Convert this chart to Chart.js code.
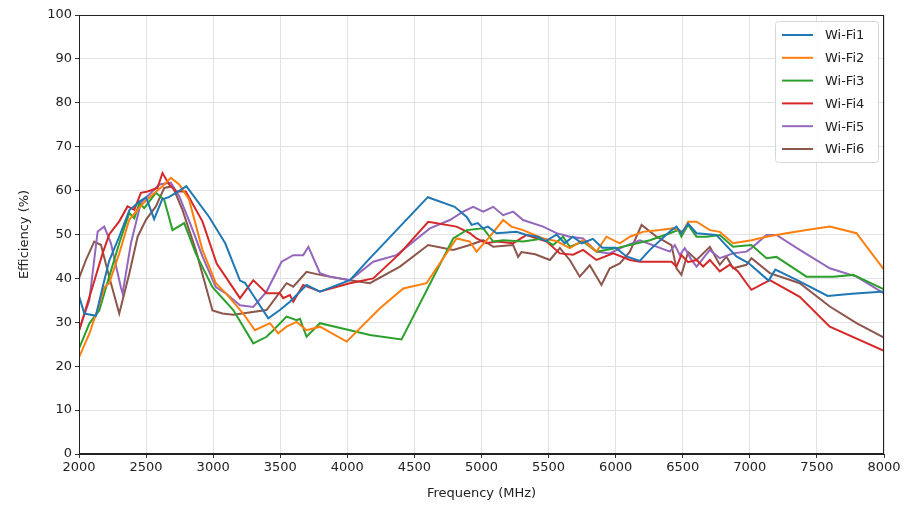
<!DOCTYPE html>
<html>
<head>
<meta charset="utf-8">
<script src="https://cdn.jsdelivr.net/npm/chart.js@4/dist/chart.umd.min.js"></script>
<style>
  body { margin: 0; background: #fff; }
  #wrap { width: 921px; height: 505px; }
</style>
</head>
<body>
<div id="wrap"><canvas id="effChart" width="921" height="505"></canvas></div>
<script>
// Datos de eficiencia por antena (MHz / %)
const wifi1Freq = [2000,2040,2126,2176,2225,2300,2375,2450,2500,2560,2620,2670,2750,2800,2970,3090,3200,3237,3411,3497,3572,3622,3696,3796,4019,4150,4600,4800,4890,4926,4973,5011,5048,5112,5261,5336,5420,5480,5560,5620,5680,5750,5830,5900,6000,6080,6180,6255,6416,6453,6490,6540,6603,6750,6900,6990,7140,7190,7360,7580,7760,8000];
const wifi1Eff  = [36,32,31.5,38,44,49.5,55.5,57.5,58.5,53.5,58,58.5,60,61,54,48,39.5,39,30.9,32.8,34.7,36.2,38.5,37,39.6,44,58.5,56.3,54,52.2,52.6,51.4,51.8,50.3,50.6,49.9,49.5,48.5,50,48,49.5,48,49,47,47,45,44,46.5,51,51.8,50.3,52.5,50.3,49.9,45,43.5,39.5,42,39.5,36,36.5,37];

const wifi2Freq = [2000,2077,2150,2190,2225,2300,2375,2475,2535,2622,2685,2747,2820,2920,3020,3095,3224,3311,3423,3485,3547,3622,3696,3796,3995,4243,4417,4590,4814,4913,4963,5062,5161,5223,5310,5459,5560,5658,5757,5857,5931,6031,6106,6203,6330,6429,6503,6540,6603,6702,6776,6875,7012,7124,7273,7422,7596,7795,8000];
const wifi2Eff  = [22,27.4,34,38,38.9,45.7,53.4,57,58.7,61,62.9,61.4,58,46.5,38.9,36.6,32,28.2,29.8,27.5,29,30.1,28.2,29,25.6,33.2,37.7,38.9,49.1,48.4,46.1,49.5,53.3,51.8,51,49.1,48.5,46.9,48.7,46.1,49.5,48,49.5,50.6,51,51.4,50.6,52.9,52.9,51,50.6,48,48.7,49.5,50.3,51,51.8,50.3,42];

const wifi3Freq = [2000,2077,2151,2225,2300,2375,2412,2450,2486,2573,2635,2697,2784,2870,2995,3150,3299,3398,3448,3547,3622,3647,3696,3796,4019,4168,4404,4789,4889,5013,5087,5161,5310,5459,5534,5608,5658,5757,5857,6007,6106,6255,6404,6466,6490,6540,6603,6677,6776,6875,7012,7124,7198,7422,7620,7770,8000];
const wifi3Eff  = [24,29.7,32.7,40.4,48,54.9,53.7,57.2,56,59.5,57.9,51,52.6,45.7,38,32.8,25.2,26.7,28.2,31.3,30.5,30.8,26.7,29.8,28.2,27.1,26.1,49.1,51,51.4,48.4,48.7,48.4,49.1,47.6,49.5,47.2,48.4,46.1,46.9,47.6,48.7,50.3,51,49.5,52.2,49.5,49.5,49.9,47.2,47.6,44.6,44.9,40.4,40.4,40.8,37.5];

const wifi4Freq = [2000,2050,2100,2176,2225,2300,2362,2412,2461,2511,2585,2622,2672,2722,2796,2920,3026,3200,3299,3398,3497,3522,3572,3597,3671,3796,4019,4193,4392,4603,4814,4913,4963,5037,5112,5236,5336,5485,5584,5683,5757,5857,5982,6106,6180,6416,6453,6490,6540,6603,6652,6702,6776,6850,6912,6975,7012,7149,7372,7596,8000];
const wifi4Eff  = [28,33,38,45.7,50,53,56.4,55.6,59.5,59.8,60.6,64,61.4,59.8,59.8,53,43.4,35.5,39.6,36.6,36.6,35.5,36.2,34.7,38.5,37,38.9,40,45.7,52.9,51.8,50.3,49.1,48,48.4,48,49.9,48.4,45.7,45.4,46.5,44.2,45.7,44.2,43.8,43.8,42.7,45.3,43.7,44.2,42.7,44.2,41.6,43.1,41.6,38.9,37.4,39.6,35.8,29,23.5];

const wifi5Freq = [2000,2077,2139,2188,2238,2312,2325,2387,2461,2511,2598,2684,2747,2833,2920,3020,3094,3200,3299,3398,3510,3597,3671,3710,3796,3870,4019,4193,4367,4615,4764,4863,4938,5013,5087,5161,5236,5310,5459,5559,5658,5757,5857,5956,6056,6180,6404,6441,6478,6515,6565,6603,6702,6776,6875,6975,7012,7124,7198,7372,7596,7795,8000];
const wifi5Eff  = [28.2,35,50.7,51.8,48,38,36.6,48,57.2,58.7,61.4,61.8,58.7,52.2,45,38,36.6,33.9,33.5,37,43.8,45.3,45.3,47.2,41.2,40.4,39.6,43.8,45.3,51.4,53.3,55.2,56.3,55.2,56.3,54.4,55.2,53.3,51.8,50.3,49.5,49.1,46.1,45.7,47.2,48.7,46.1,47.6,45.3,46.9,44.2,42.7,46.5,44.6,45.7,46.1,46.9,49.9,49.9,46.5,42.3,40.4,36.6];

const wifi6Freq = [2000,2052,2114,2164,2225,2300,2375,2437,2500,2573,2635,2697,2771,2870,2995,3070,3150,3398,3547,3597,3696,3796,4019,4168,4392,4603,4789,4913,5013,5087,5236,5273,5298,5400,5510,5584,5658,5732,5807,5894,5956,6031,6106,6193,6305,6416,6453,6490,6540,6603,6702,6776,6826,6875,6975,7012,7149,7372,7596,7795,8000];
const wifi6Eff  = [40,44.2,48.4,47.6,40.4,32,41.1,49.5,53.4,56.4,60.6,61,55.6,46.5,32.7,32,31.7,32.8,38.9,38.1,41.5,40.8,39.6,38.9,42.7,47.6,46.5,47.6,48.7,47.2,47.6,44.9,46,45.5,44.2,46.9,44.2,40.4,43,38.5,42.3,43.4,46.1,52.2,49.5,47.6,42.3,40.8,46,44.2,47.2,43.1,45,42.3,43.1,44.6,41.2,38.9,33.6,29.8,26.5];

const seriesLabels = ['Wi-Fi1', 'Wi-Fi2', 'Wi-Fi3', 'Wi-Fi4', 'Wi-Fi5', 'Wi-Fi6'];
const seriesColors = ['#1f77b4', '#ff7f0e', '#2ca02c', '#d62728', '#9467bd', '#8c564b'];
const xTicks = [2000, 2500, 3000, 3500, 4000, 4500, 5000, 5500, 6000, 6500, 7000, 7500, 8000];
const yTicks = [0, 10, 20, 30, 40, 50, 60, 70, 80, 90, 100];

const freqs = [wifi1Freq, wifi2Freq, wifi3Freq, wifi4Freq, wifi5Freq, wifi6Freq];
const effs = [wifi1Eff, wifi2Eff, wifi3Eff, wifi4Eff, wifi5Eff, wifi6Eff];

const FONT = '"DejaVu Sans", sans-serif';

// marco completo + leyenda dentro del area (estilo matplotlib)
const frameAndLegend = {
  id: 'frameAndLegend',
  afterDraw(chart) {
    const ctx = chart.ctx;
    const a = chart.chartArea;
    ctx.save();
    ctx.strokeStyle = '#222';
    ctx.lineWidth = 1;
    ctx.strokeRect(a.left + 0.5, a.top + 0.5, a.right - a.left - 1, a.bottom - a.top - 1);

    // leyenda
    const boxX = 775, boxY = 21, boxW = 103, boxH = 141;
    ctx.fillStyle = 'rgba(255,255,255,0.85)';
    ctx.strokeStyle = '#d6d6d6';
    ctx.beginPath();
    ctx.roundRect(boxX + 0.5, boxY + 0.5, boxW, boxH, 3);
    ctx.fill();
    ctx.stroke();
    ctx.font = '13px ' + FONT;
    ctx.textBaseline = 'middle';
    chart.data.datasets.forEach((ds, i) => {
      const y = 35 + i * 22.8;
      ctx.strokeStyle = ds.borderColor;
      ctx.lineWidth = 2;
      ctx.beginPath();
      ctx.moveTo(782, y);
      ctx.lineTo(813, y);
      ctx.stroke();
      ctx.fillStyle = '#222';
      ctx.fillText(ds.label, 825, y + 1);
    });
    ctx.restore();
  }
};

const datasets = seriesLabels.map((label, i) => ({
  label: label,
  data: freqs[i].map((f, j) => ({ x: f, y: effs[i][j] })),
  borderColor: seriesColors[i],
  backgroundColor: seriesColors[i],
  borderWidth: 2,
  pointRadius: 0,
  tension: 0,
  fill: false
}));

new Chart(document.getElementById('effChart').getContext('2d'), {
  type: 'line',
  data: { datasets: datasets },
  options: {
    responsive: false,
    animation: false,
    layout: { padding: { left: 0, right: 37, top: 15, bottom: 0 } },
    plugins: {
      legend: { display: false },
      tooltip: { enabled: false }
    },
    scales: {
      x: {
        type: 'linear',
        min: 2000,
        max: 8000,
        afterBuildTicks: (s) => { s.ticks = xTicks.map(v => ({ value: v })); },
        afterFit: (s) => { s.height = 51; },
        grid: { color: '#e2e2e2', tickColor: '#333', tickLength: 4 },
        border: { color: '#222' },
        ticks: { color: '#222', font: { family: FONT, size: 13 }, padding: 2, maxRotation: 0, callback: (v) => String(v) },
        title: { display: true, text: 'Frequency (MHz)', color: '#222', font: { family: FONT, size: 13 }, padding: { top: 2 } }
      },
      y: {
        min: 0,
        max: 100,
        afterBuildTicks: (s) => { s.ticks = yTicks.map(v => ({ value: v })); },
        afterFit: (s) => { s.width = 79; },
        grid: { color: '#e2e2e2', tickColor: '#333', tickLength: 4 },
        border: { color: '#222' },
        ticks: { color: '#222', font: { family: FONT, size: 13 }, padding: 3, callback: (v) => String(v) },
        title: { display: true, text: 'Efficiency (%)', color: '#222', font: { family: FONT, size: 13 }, padding: { top: 17, bottom: 4 } }
      }
    }
  },
  plugins: [frameAndLegend]
});
</script>
</body>
</html>
